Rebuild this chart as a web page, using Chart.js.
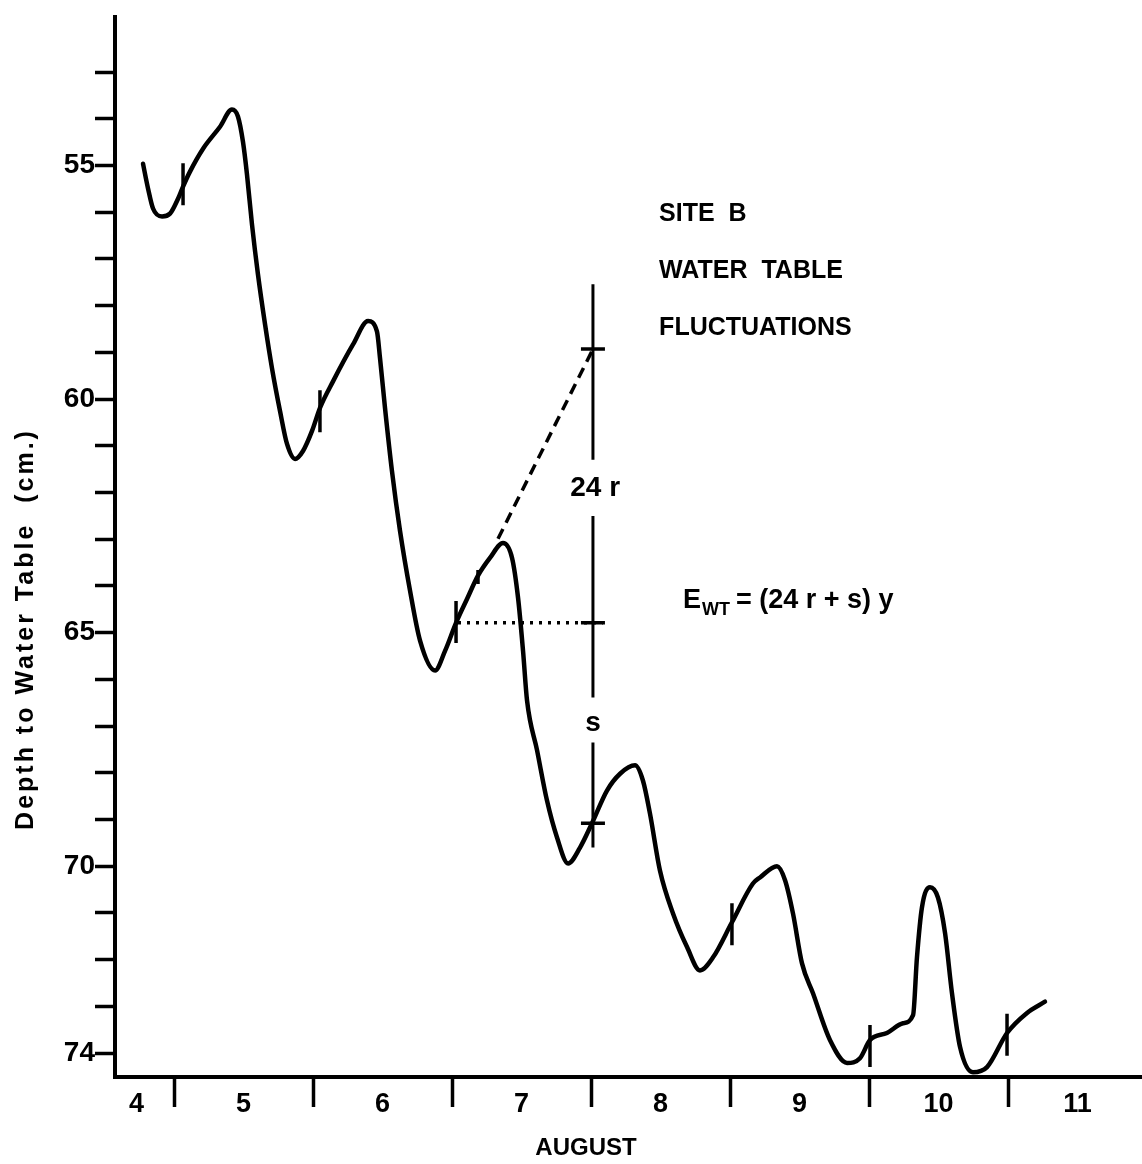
<!DOCTYPE html>
<html>
<head>
<meta charset="utf-8">
<title>Site B water table fluctuations</title>
<script src="https://cdn.jsdelivr.net/npm/chart.js@4.4.1/dist/chart.umd.min.js"></script>
<style>
  html, body { margin: 0; padding: 0; background: #fff; }
  #chart { display: block; }
</style>
</head>
<body>
<canvas id="chart" width="1142" height="1164"></canvas>
<script>
// time in days of August (5.0 = midnight at the start of Aug 5), depth in cm
var timeDays = [4.777, 4.813, 4.849, 4.914, 4.971, 5.029, 5.065, 5.115, 5.209, 5.331,
  5.417, 5.460, 5.496, 5.525, 5.561, 5.604, 5.655, 5.705, 5.763, 5.813,
  5.871, 5.928, 5.993, 6.050, 6.144, 6.288, 6.396, 6.460, 6.482, 6.518,
  6.568, 6.626, 6.698, 6.770, 6.878, 6.950, 7.029, 7.108, 7.187, 7.273,
  7.367, 7.432, 7.475, 7.511, 7.540, 7.612, 7.683, 7.755, 7.835, 7.921,
  8.007, 8.115, 8.209, 8.317, 8.374, 8.424, 8.496, 8.590, 8.691, 8.784,
  8.878, 9.014, 9.165, 9.216, 9.338, 9.396, 9.453, 9.518, 9.597, 9.719,
  9.842, 9.935, 10.007, 10.129, 10.245, 10.317, 10.345, 10.381, 10.439, 10.496,
  10.547, 10.597, 10.655, 10.748, 10.849, 10.993, 11.137, 11.266];
var depthCm = [54.96, 55.49, 55.92, 56.09, 56.03, 55.71, 55.45, 55.13, 54.64, 54.17,
  53.80, 53.95, 54.49, 55.19, 56.26, 57.33, 58.40, 59.34, 60.26, 60.96,
  61.28, 61.11, 60.68, 60.19, 59.62, 58.83, 58.33, 58.55, 59.12, 60.19,
  61.54, 62.82, 64.10, 65.17, 65.81, 65.39, 64.79, 64.28, 63.78, 63.40,
  63.08, 63.40, 64.25, 65.39, 66.46, 67.52, 68.59, 69.38, 69.94, 69.60,
  69.08, 68.38, 68.02, 67.84, 68.17, 68.87, 70.09, 71.01, 71.73, 72.23,
  71.95, 71.20, 70.37, 70.24, 70.00, 70.30, 71.01, 72.08, 72.72, 73.72,
  74.21, 74.11, 73.72, 73.57, 73.36, 73.19, 71.95, 70.88, 70.45, 70.67,
  71.43, 72.72, 73.87, 74.41, 74.30, 73.57, 73.14, 72.90];

// midnight marks drawn across the curve
var markTime = [5.065, 6.050, 7.029, 9.014, 10.007, 10.993];
var markDepth = [55.40, 60.26, 64.77, 71.24, 73.85, 73.61];
var smallMarkTime = [7.187];
var smallMarkDepth = [63.81];

// construction: tangent to rising limb, level line, 24r / s bar at 8.014
var tangentTime = [7.331, 8.014];
var tangentDepth = [62.99, 58.93];
var levelTime = [7.043, 8.086];
var levelDepth = [64.79, 64.79];
var barTime = 8.014;
var barDepth = [57.54, 61.30, null, 62.50, 66.39, null, 67.35, 69.60];
var crossDepth = [58.93, 64.79, 69.08];

// axis ticks
var dayMarks = [5, 6, 7, 8, 9, 10, 11];
var dayLabels = ['4', '5', '6', '7', '8', '9', '10', '11'];
var dayLabelAt = [4.73, 5.5, 6.5, 7.5, 8.5, 9.5, 10.5, 11.5];
var depthTicks = [53, 54, 55, 56, 57, 58, 59, 60, 61, 62, 63, 64, 65, 66, 67, 68, 69, 70, 71, 72, 73, 74];
var depthLabels = [55, 60, 65, 70, 74];

function pts(xs, ys) {
  return xs.map(function(x, i) { return {x: x, y: ys[i]}; });
}

var notes = {
  id: 'notes',
  afterDraw: function(chart) {
    var ctx = chart.ctx;
    var xs = chart.scales.x, ys = chart.scales.y;
    ctx.save();
    ctx.fillStyle = '#000';

    // axis titles
    ctx.font = 'bold 25px "Liberation Sans"';
    ctx.textAlign = 'center';
    ctx.textBaseline = 'alphabetic';
    ctx.save();
    ctx.translate(33, 629);
    ctx.rotate(-Math.PI / 2);
    if ('letterSpacing' in ctx) ctx.letterSpacing = '3px';
    ctx.fillText('Depth to Water Table  (cm.)', 0, 0);
    ctx.restore();
    ctx.font = 'bold 24px "Liberation Sans"';
    ctx.textBaseline = 'middle';
    ctx.fillText('AUGUST', 586, 1148);

    // site caption
    ctx.font = 'bold 25px "Liberation Sans"';
    ctx.textAlign = 'left';
    var cx = xs.getPixelForValue(8.49);
    ctx.fillText('SITE  B', cx, ys.getPixelForValue(56.05));
    ctx.fillText('WATER  TABLE', cx, ys.getPixelForValue(57.27));
    ctx.fillText('FLUCTUATIONS', cx, ys.getPixelForValue(58.48));

    // 24r and s on the bar
    ctx.font = 'bold 28px "Liberation Sans"';
    ctx.textAlign = 'center';
    ctx.fillText('24 r', xs.getPixelForValue(8.03), ys.getPixelForValue(61.90));
    ctx.fillText('s', xs.getPixelForValue(barTime), ys.getPixelForValue(66.95));

    // equation
    ctx.font = 'bold 27px "Liberation Sans"';
    ctx.textAlign = 'left';
    ctx.textBaseline = 'alphabetic';
    var ex = xs.getPixelForValue(8.662), eb = ys.getPixelForValue(64.47);
    ctx.fillText('E', ex, eb);
    var w1 = ctx.measureText('E').width;
    ctx.font = 'bold 18px "Liberation Sans"';
    ctx.fillText('WT', ex + w1 + 1, eb + 7);
    var w2 = ctx.measureText('WT').width;
    ctx.font = 'bold 27px "Liberation Sans"';
    ctx.fillText('= (24 r + s) y', ex + w1 + w2 + 7, eb);
    ctx.restore();
  }
};

var ctx = document.getElementById('chart');
var chart = new Chart(ctx, {
  type: 'line',
  data: {
    datasets: [
      {
        label: 'Water table',
        data: pts(timeDays, depthCm),
        borderColor: '#000',
        borderWidth: 4.5,
        borderCapStyle: 'round',
        borderJoinStyle: 'round',
        pointRadius: 0,
        fill: false,
        cubicInterpolationMode: 'monotone'
      },
      {
        label: 'Midnight',
        data: pts(markTime, markDepth),
        showLine: false,
        pointStyle: 'line',
        rotation: 90,
        pointRadius: 21,
        pointBorderWidth: 3.5,
        pointBorderColor: '#000'
      },
      {
        label: 'Mark',
        data: pts(smallMarkTime, smallMarkDepth),
        showLine: false,
        pointStyle: 'line',
        rotation: 90,
        pointRadius: 7,
        pointBorderWidth: 3.5,
        pointBorderColor: '#000'
      },
      {
        label: 'Tangent',
        data: pts(tangentTime, tangentDepth),
        borderColor: '#000',
        borderWidth: 3.5,
        borderDash: [11, 7],
        pointRadius: 0
      },
      {
        label: 'Level',
        data: pts(levelTime, levelDepth),
        borderColor: '#000',
        borderWidth: 3.5,
        borderDash: [3, 6],
        pointRadius: 0
      },
      {
        label: 'Bar',
        data: barDepth.map(function(d) { return {x: barTime, y: d}; }),
        borderColor: '#000',
        borderWidth: 3,
        spanGaps: false,
        pointRadius: 0
      },
      {
        label: 'Cross',
        data: crossDepth.map(function(d) { return {x: barTime, y: d}; }),
        showLine: false,
        pointStyle: 'line',
        rotation: 0,
        pointRadius: 12,
        pointBorderWidth: 3.5,
        pointBorderColor: '#000'
      }
    ]
  },
  options: {
    responsive: false,
    animation: false,
    layout: { autoPadding: false, padding: { top: 15, left: 0, right: 0, bottom: 0 } },
    plugins: {
      legend: { display: false },
      tooltip: { enabled: false }
    },
    scales: {
      x: {
        type: 'linear',
        min: 4.5755,
        max: 11.964,
        afterFit: function(scale) { scale.height = 87; },
        afterBuildTicks: function(scale) {
          scale.ticks = dayMarks.concat(dayLabelAt)
            .sort(function(a, b) { return a - b; })
            .map(function(v) { return {value: v}; });
        },
        border: { display: true, color: '#000', width: 4 },
        grid: {
          drawOnChartArea: false,
          drawTicks: true,
          tickLength: 30,
          tickWidth: 3.5,
          tickColor: function(c) {
            return c.tick && dayMarks.indexOf(c.tick.value) >= 0 ? '#000' : 'rgba(0,0,0,0)';
          }
        },
        ticks: {
          autoSkip: false,
          maxRotation: 0,
          padding: -19,
          color: '#000',
          font: { family: 'Liberation Sans', size: 27, weight: 'bold' },
          callback: function(v) {
            var i = dayLabelAt.indexOf(v);
            return i < 0 ? '' : dayLabels[i];
          }
        }
      },
      y: {
        type: 'linear',
        reverse: true,
        min: 51.816,
        max: 74.512,
        afterFit: function(scale) { scale.width = 115; },
        afterBuildTicks: function(scale) {
          scale.ticks = depthTicks.map(function(v) { return {value: v}; });
        },
        border: { display: true, color: '#000', width: 4 },
        grid: {
          drawOnChartArea: false,
          drawTicks: true,
          tickLength: 20,
          tickWidth: 3.5,
          tickColor: '#000'
        },
        ticks: {
          autoSkip: false,
          padding: 0,
          color: '#000',
          font: { family: 'Liberation Sans', size: 28, weight: 'bold' },
          callback: function(v) {
            return depthLabels.indexOf(v) >= 0 ? String(v) : '';
          }
        }
      }
    }
  },
  plugins: [notes]
});
</script>
</body>
</html>
